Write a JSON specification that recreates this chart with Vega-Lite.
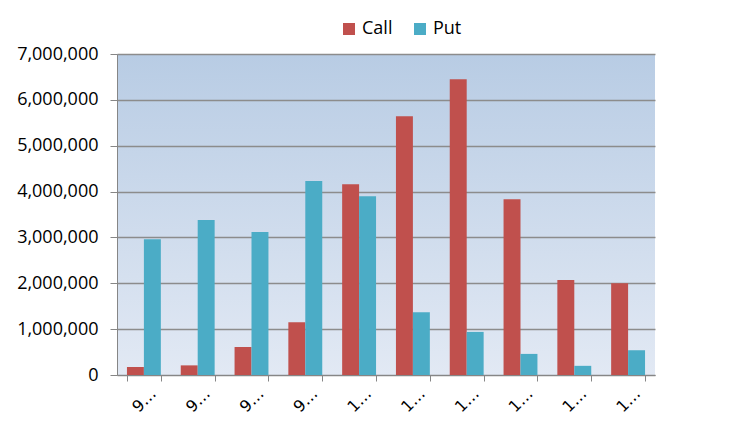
{
  "$schema": "https://vega.github.io/schema/vega-lite/v6.json",
  "autosize": "none",
  "width": 538,
  "height": 321,
  "padding": {"left": 117, "top": 54, "right": 80, "bottom": 48},
  "background": "white",
  "data": {
    "values": [
      {"cat": "9a", "series": "Call", "value": 175000},
      {"cat": "9a", "series": "Put", "value": 2960000},
      {"cat": "9b", "series": "Call", "value": 210000},
      {"cat": "9b", "series": "Put", "value": 3380000},
      {"cat": "9c", "series": "Call", "value": 610000},
      {"cat": "9c", "series": "Put", "value": 3120000},
      {"cat": "9d", "series": "Call", "value": 1150000},
      {"cat": "9d", "series": "Put", "value": 4230000},
      {"cat": "1a", "series": "Call", "value": 4160000},
      {"cat": "1a", "series": "Put", "value": 3900000},
      {"cat": "1b", "series": "Call", "value": 5640000},
      {"cat": "1b", "series": "Put", "value": 1370000},
      {"cat": "1c", "series": "Call", "value": 6450000},
      {"cat": "1c", "series": "Put", "value": 940000},
      {"cat": "1d", "series": "Call", "value": 3830000},
      {"cat": "1d", "series": "Put", "value": 460000},
      {"cat": "1e", "series": "Call", "value": 2070000},
      {"cat": "1e", "series": "Put", "value": 200000},
      {"cat": "1f", "series": "Call", "value": 2000000},
      {"cat": "1f", "series": "Put", "value": 540000}
    ]
  },
  "mark": {"type": "bar"},
  "encoding": {
    "x": {
      "field": "cat",
      "type": "nominal",
      "sort": null,
      "scale": {"paddingInner": 0.37, "paddingOuter": 0.185},
      "axis": {
        "title": null,
        "labelExpr": "datum.label ? substring(datum.label, 0, 1) + '…' : ''",
        "labelAngle": -45,
        "labelAlign": "center",
        "labelBaseline": "middle",
        "labelFont": "DejaVu Sans",
        "labelFontSize": 16,
        "labelColor": "#000000",
        "labelPadding": 19,
        "tickBand": "extent",
        "tickSize": 6,
        "tickColor": "#868686",
        "domainColor": "#868686",
        "grid": false
      }
    },
    "xOffset": {"field": "series", "type": "nominal"},
    "y": {
      "field": "value",
      "type": "quantitative",
      "scale": {"domain": [0, 7000000]},
      "axis": {
        "title": null,
        "values": [0, 1000000, 2000000, 3000000, 4000000, 5000000, 6000000, 7000000],
        "format": ",d",
        "labelFont": "Open Sans",
        "labelFontSize": 18,
        "labelColor": "#000000",
        "labelPadding": 12,
        "tickSize": 7,
        "tickColor": "#868686",
        "domainColor": "#868686",
        "gridColor": "#8C8C8C",
        "gridWidth": 1.5
      }
    },
    "color": {
      "field": "series",
      "type": "nominal",
      "scale": {"domain": ["Call", "Put"], "range": ["#C0504D", "#4BACC6"]},
      "legend": {
        "title": null,
        "orient": "none",
        "legendX": 223,
        "legendY": -34,
        "direction": "horizontal",
        "symbolType": "square",
        "symbolSize": 144,
        "symbolStrokeWidth": 0,
        "labelFont": "Open Sans",
        "labelFontSize": 18,
        "labelColor": "#000000",
        "labelOffset": 4,
        "columnPadding": 18,
        "padding": 0
      }
    }
  },
  "config": {
    "view": {
      "stroke": null,
      "fill": {
        "gradient": "linear",
        "x1": 0, "y1": 0, "x2": 0, "y2": 1,
        "stops": [
          {"offset": 0, "color": "#B8CCE4"},
          {"offset": 1, "color": "#E2E9F4"}
        ]
      }
    }
  }
}
